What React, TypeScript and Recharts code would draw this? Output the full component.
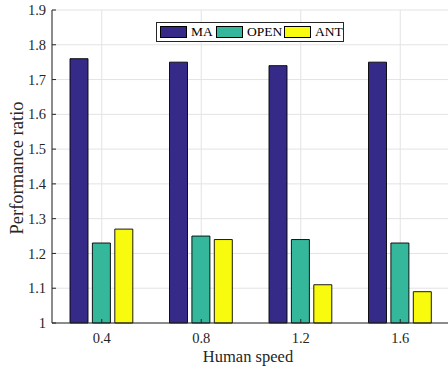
import { BarChart, Bar, XAxis, YAxis, CartesianGrid } from "recharts";

// Human speed categories and performance ratios
const speeds = ["0.4", "0.8", "1.2", "1.6"];
const maValues = [1.76, 1.75, 1.74, 1.75];
const openValues = [1.23, 1.25, 1.24, 1.23];
const antValues = [1.27, 1.24, 1.11, 1.09];
const yTicks = [1, 1.1, 1.2, 1.3, 1.4, 1.5, 1.6, 1.7, 1.8, 1.9];

const series = [
  { key: "MA", values: maValues, color: "#352A87" },
  { key: "OPEN", values: openValues, color: "#35B79C" },
  { key: "ANT", values: antValues, color: "#F9FB0E" },
];
// legend slot widths (px), so the box lines up with the figure
const legendSlots = [56, 68, 60];

const data = speeds.map((speed, i) => {
  const row: Record<string, string | number> = { speed };
  series.forEach((s) => (row[s.key] = s.values[i]));
  return row;
});

const FONT = '"Liberation Serif", "Times New Roman", serif';
const AXIS = "#262626";
const tickStyle = { fill: AXIS, fontSize: 14.5, fontFamily: FONT };

function YLabel({ viewBox }: any) {
  const cx = viewBox.x + 22.5;
  const cy = viewBox.y + viewBox.height / 2 + 1.5;
  return (
    <text
      x={cx}
      y={cy}
      transform={`rotate(-90 ${cx} ${cy})`}
      textAnchor="middle"
      fill={AXIS}
      fontSize={18.5}
      fontFamily={FONT}
    >
      Performance ratio
    </text>
  );
}

function XLabel({ viewBox }: any) {
  const cx = viewBox.x + viewBox.width / 2 - 3;
  return (
    <text x={cx} y={viewBox.y + 38.5} textAnchor="middle" fill={AXIS} fontSize={16.5} fontFamily={FONT}>
      Human speed
    </text>
  );
}

export default function App() {
  return (
    <div style={{ position: "absolute", left: 0, top: 0, width: 448, height: 372, overflow: "hidden", background: "#fff" }}>
      <BarChart
        width={450}
        height={372}
        data={data}
        margin={{ top: 10, right: 0, bottom: 0, left: 0 }}
        barGap={4.4}
      >
        <CartesianGrid stroke="#E3E3E3" strokeWidth={1} />
        <XAxis
          dataKey="speed"
          height={49}
          interval={0}
          stroke={AXIS}
          tickSize={-4}
          tickMargin={14}
          tick={tickStyle}
          label={<XLabel />}
        />
        <XAxis
          xAxisId="top"
          dataKey="speed"
          orientation="top"
          height={0}
          interval={0}
          stroke={AXIS}
          tickSize={-4}
          tick={false}
        />
        <YAxis
          width={52}
          domain={[1, 1.9]}
          ticks={yTicks}
          interval={0}
          stroke={AXIS}
          tickSize={-4}
          tickMargin={10}
          tick={tickStyle}
          tickFormatter={(v) => String(v)}
          label={<YLabel />}
        />
        <YAxis
          yAxisId="right"
          orientation="right"
          width={0}
          domain={[1, 1.9]}
          ticks={yTicks}
          interval={0}
          stroke={AXIS}
          tickSize={-4}
          tick={false}
        />
        {series.map((s) => (
          <Bar
            key={s.key}
            dataKey={s.key}
            fill={s.color}
            stroke="#000"
            strokeWidth={0.9}
            barSize={18}
            isAnimationActive={false}
          />
        ))}
      </BarChart>
      <div
        style={{
          position: "absolute",
          left: 156,
          top: 21.5,
          width: 188,
          height: 20,
          boxSizing: "border-box",
          border: `1px solid ${AXIS}`,
          background: "#fff",
          display: "flex",
          alignItems: "center",
          paddingLeft: 3,
          fontFamily: FONT,
          fontSize: 13.5,
          color: "#000",
          overflow: "hidden",
        }}
      >
        {series.map((s, i) => (
          <div
            key={s.key}
            style={{ display: "flex", alignItems: "center", width: legendSlots[i], flex: "none", whiteSpace: "nowrap" }}
          >
            <span
              style={{
                display: "inline-block",
                width: 27,
                height: 12,
                boxSizing: "border-box",
                border: "1px solid #000",
                background: s.color,
                marginRight: 4,
                flex: "none",
              }}
            />
            <span style={{ lineHeight: "18px" }}>{s.key}</span>
          </div>
        ))}
      </div>
    </div>
  );
}
